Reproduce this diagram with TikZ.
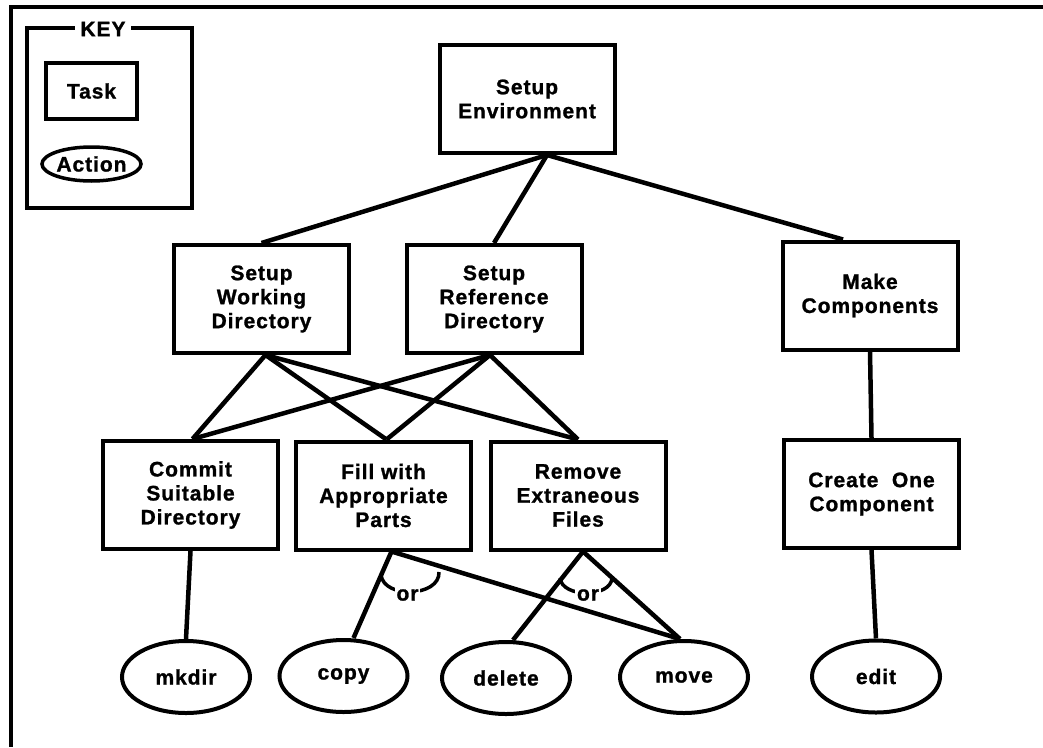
\documentclass[tikz,border=0pt]{standalone}
\usepackage{fontspec}
\newfontfamily\diagfont{Liberation Sans}[LetterSpace=4.5, BoldFeatures={FakeBold=1.2}]
\usetikzlibrary{shapes.geometric}

\begin{document}
\begin{tikzpicture}[x=1pt,y=-1pt,
  every node/.style={font=\diagfont\bfseries\fontsize{21}{24}\selectfont},
  task/.style={draw, line width=4pt, rectangle, align=center, inner sep=0pt,
    minimum width=175pt, minimum height=108pt},
  action/.style={draw, line width=4pt, ellipse, inner sep=0pt,
    minimum width=128pt, minimum height=72pt},
  link/.style={line width=4.5pt},
  orarc/.style={line width=3.5pt},
  ortext/.style={fill=white, inner sep=2pt},
]
\useasboundingbox (0,0) rectangle (1043,747);

% frame (top and left edges only)
\draw[line width=3.5pt] (1043,7) -- (11,7) -- (11,747);

% key
\draw[line width=3.5pt] (27,28) rectangle (192,208);
\node[fill=white, inner sep=5pt] (keylabel) at (103,29) {KEY};
\node[draw, line width=3.5pt, minimum width=91pt, minimum height=56pt, inner sep=0pt]
  (keytask) at (91.5,91) {Task};
\node[draw, line width=3.5pt, ellipse, minimum width=86pt, minimum height=34pt, inner sep=0pt]
  (keyaction) at (91.5,164) {Action};

% tasks
\node[task] (se)  at (527,99)    {Setup\\Environment};
\node[task] (sw)  at (261.5,299) {Setup\\Working\\Directory};
\node[task] (sr)  at (494,299)   {Setup\\Reference\\Directory};
\node[task] (mc)  at (870,295.5) {Make\\Components};
\node[task] (csd) at (190.5,495) {Commit\\Suitable\\Directory};
\node[task] (fap) at (383.5,495.5) {Fill with\\Appropriate\\Parts};
\node[task] (ref) at (578,495.5) {Remove\\Extraneous\\Files};
\node[task] (coc) at (871.5,494) {Create\ \ One\\Component};

% actions
\node[action] (mkdir)  at (186,677)   {mkdir};
\node[action] (copy)   at (343.5,676) {copy};
\node[action] (delete) at (506,678)   {delete};
\node[action] (move)   at (684,677)   {move};
\node[action] (edit)   at (876,676.5) {edit};

% fork points
\coordinate (seB)  at ([xshift=20pt]se.south);
\coordinate (swB)  at ([xshift=4pt]sw.south);
\coordinate (srB)  at ([xshift=-4pt]sr.south);
\coordinate (fapB) at ([xshift=8pt]fap.south);
\coordinate (refB) at ([xshift=5pt]ref.south);

% connectors
\draw[link] (seB) -- (sw.north);
\draw[link] (seB) -- (sr.north);
\draw[link] (seB) -- ([xshift=-27pt]mc.north);

\draw[link] (swB) -- ([xshift=2pt]csd.north);
\draw[link] (swB) -- ([xshift=3pt]fap.north);
\draw[link] (swB) -- (ref.north);
\draw[link] (srB) -- ([xshift=2pt]csd.north);
\draw[link] (srB) -- ([xshift=3pt]fap.north);
\draw[link] (srB) -- (ref.north);

\draw[link] (mc.south) -- (coc.north);
\draw[link] (coc.south) -- (edit.north);
\draw[link] (csd.south) -- (mkdir.north);

\draw[link] (fapB) -- ([xshift=10pt]copy.north);
\draw[link] (fapB) -- ([xshift=-4pt]move.north);
\draw[link] (refB) -- ([xshift=7pt]delete.north);
\draw[link] (refB) -- ([xshift=-4pt]move.north);

% "or" brackets, broken by their labels
\draw[orarc] (381,575) .. controls (384,599) and (440,597) .. (439,572);
\node[ortext] (or1) at (407.5,595) {or};
\draw[orarc] (560,578) .. controls (562,598) and (611,598) .. (612,578);
\node[ortext] (or2) at (588,595) {or};
\end{tikzpicture}
\end{document}
